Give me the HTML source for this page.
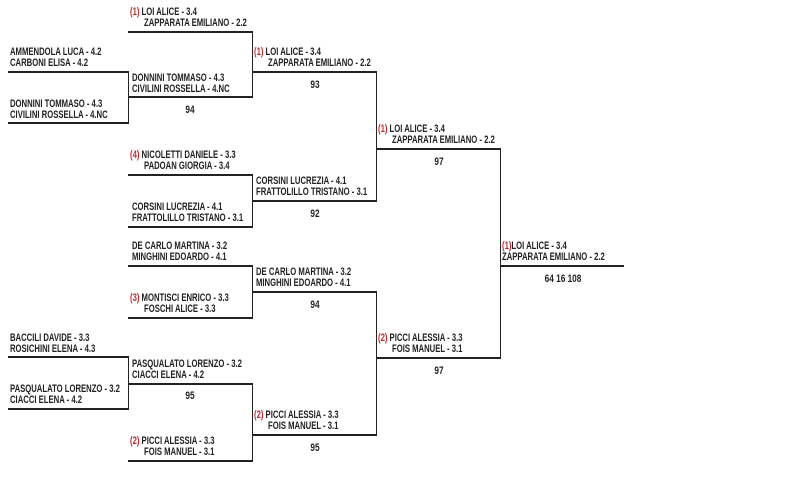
<!DOCTYPE html>
<html><head><meta charset="utf-8"><style>
body{margin:0;background:#fff;width:800px;height:481px;position:relative;overflow:hidden;font-family:"Liberation Sans",sans-serif;}
.h{position:absolute;height:1.5px;background:#222;}
.v{position:absolute;width:1.5px;background:#222;}
.t{position:absolute;font-size:11px;line-height:11px;font-weight:bold;color:#222;white-space:nowrap;transform:scaleX(0.7);transform-origin:0 0;}
.s{color:#c8262b;}
.n{position:absolute;font-size:11px;line-height:11px;font-weight:bold;color:#222;width:60px;text-align:center;transform:scaleX(0.75);}
</style></head><body>
<!-- round1 -->
<div class="h" style="left:8px;top:71px;width:121px"></div>
<div class="h" style="left:8px;top:122px;width:121px"></div>
<div class="v" style="left:127.5px;top:71px;height:53px"></div>
<div class="h" style="left:8px;top:356px;width:121px"></div>
<div class="h" style="left:8px;top:408px;width:121px"></div>
<div class="v" style="left:127.5px;top:356px;height:53px"></div>
<!-- round2 -->
<div class="h" style="left:128px;top:31px;width:125px"></div>
<div class="h" style="left:128px;top:96px;width:125px"></div>
<div class="v" style="left:251.5px;top:31px;height:67px"></div>
<div class="h" style="left:128px;top:174px;width:125px"></div>
<div class="h" style="left:128px;top:226px;width:125px"></div>
<div class="v" style="left:251.5px;top:174px;height:53px"></div>
<div class="h" style="left:128px;top:265px;width:125px"></div>
<div class="h" style="left:128px;top:317px;width:125px"></div>
<div class="v" style="left:251.5px;top:265px;height:53px"></div>
<div class="h" style="left:128px;top:383px;width:125px"></div>
<div class="h" style="left:128px;top:460px;width:125px"></div>
<div class="v" style="left:251.5px;top:383px;height:78px"></div>
<!-- round3 -->
<div class="h" style="left:252px;top:71px;width:125px"></div>
<div class="h" style="left:252px;top:200px;width:125px"></div>
<div class="v" style="left:375.5px;top:71px;height:130px"></div>
<div class="h" style="left:252px;top:291px;width:125px"></div>
<div class="h" style="left:252px;top:434px;width:125px"></div>
<div class="v" style="left:375.5px;top:291px;height:144px"></div>
<!-- round4 -->
<div class="h" style="left:376px;top:148px;width:125px"></div>
<div class="h" style="left:376px;top:357px;width:125px"></div>
<div class="v" style="left:499.5px;top:148px;height:210px"></div>
<div class="h" style="left:500px;top:265px;width:124px"></div>

<!-- texts round1 -->
<div class="t" style="left:10px;top:47px">AMMENDOLA LUCA - 4.2</div>
<div class="t" style="left:10px;top:58px">CARBONI ELISA - 4.2</div>
<div class="t" style="left:10px;top:99px">DONNINI TOMMASO - 4.3</div>
<div class="t" style="left:10px;top:110px">CIVILINI ROSSELLA - 4.NC</div>
<div class="t" style="left:10px;top:333px">BACCILI DAVIDE - 3.3</div>
<div class="t" style="left:10px;top:344px">ROSICHINI ELENA - 4.3</div>
<div class="t" style="left:10px;top:384px">PASQUALATO LORENZO - 3.2</div>
<div class="t" style="left:10px;top:395px">CIACCI ELENA - 4.2</div>
<!-- round2 -->
<div class="t" style="left:130px;top:7px"><span class="s">(1)</span> LOI ALICE - 3.4</div>
<div class="t" style="left:144px;top:18px">ZAPPARATA EMILIANO - 2.2</div>
<div class="t" style="left:132px;top:73px">DONNINI TOMMASO - 4.3</div>
<div class="t" style="left:132px;top:84px">CIVILINI ROSSELLA - 4.NC</div>
<div class="n" style="left:160px;top:105px">94</div>
<div class="t" style="left:130px;top:150px"><span class="s">(4)</span> NICOLETTI DANIELE - 3.3</div>
<div class="t" style="left:144px;top:161px">PADOAN GIORGIA - 3.4</div>
<div class="t" style="left:132px;top:202px">CORSINI LUCREZIA - 4.1</div>
<div class="t" style="left:132px;top:213px">FRATTOLILLO TRISTANO - 3.1</div>
<div class="t" style="left:132px;top:241px">DE CARLO MARTINA - 3.2</div>
<div class="t" style="left:132px;top:252px">MINGHINI EDOARDO - 4.1</div>
<div class="t" style="left:130px;top:293px"><span class="s">(3)</span> MONTISCI ENRICO - 3.3</div>
<div class="t" style="left:144px;top:304px">FOSCHI ALICE - 3.3</div>
<div class="t" style="left:132px;top:359px">PASQUALATO LORENZO - 3.2</div>
<div class="t" style="left:132px;top:370px">CIACCI ELENA - 4.2</div>
<div class="n" style="left:160px;top:391px">95</div>
<div class="t" style="left:130px;top:436px"><span class="s">(2)</span> PICCI ALESSIA - 3.3</div>
<div class="t" style="left:144px;top:447px">FOIS MANUEL - 3.1</div>
<!-- round3 -->
<div class="t" style="left:254px;top:47px"><span class="s">(1)</span> LOI ALICE - 3.4</div>
<div class="t" style="left:268px;top:58px">ZAPPARATA EMILIANO - 2.2</div>
<div class="n" style="left:285px;top:80px">93</div>
<div class="t" style="left:256px;top:176px">CORSINI LUCREZIA - 4.1</div>
<div class="t" style="left:256px;top:187px">FRATTOLILLO TRISTANO - 3.1</div>
<div class="n" style="left:285px;top:209px">92</div>
<div class="t" style="left:256px;top:267px">DE CARLO MARTINA - 3.2</div>
<div class="t" style="left:256px;top:278px">MINGHINI EDOARDO - 4.1</div>
<div class="n" style="left:285px;top:300px">94</div>
<div class="t" style="left:254px;top:410px"><span class="s">(2)</span> PICCI ALESSIA - 3.3</div>
<div class="t" style="left:268px;top:421px">FOIS MANUEL - 3.1</div>
<div class="n" style="left:285px;top:443px">95</div>
<!-- round4 -->
<div class="t" style="left:378px;top:124px"><span class="s">(1)</span> LOI ALICE - 3.4</div>
<div class="t" style="left:392px;top:135px">ZAPPARATA EMILIANO - 2.2</div>
<div class="n" style="left:409px;top:157px">97</div>
<div class="t" style="left:378px;top:333px"><span class="s">(2)</span> PICCI ALESSIA - 3.3</div>
<div class="t" style="left:392px;top:344px">FOIS MANUEL - 3.1</div>
<div class="n" style="left:409px;top:366px">97</div>
<!-- final -->
<div class="t" style="left:502px;top:241px"><span class="s">(1)</span>LOI ALICE - 3.4</div>
<div class="t" style="left:502px;top:252px">ZAPPARATA EMILIANO - 2.2</div>
<div class="n" style="left:533px;top:274px">64 16 108</div>
</body></html>
